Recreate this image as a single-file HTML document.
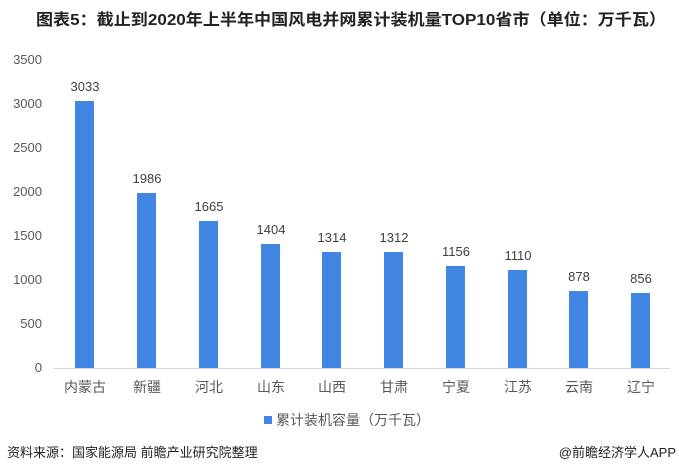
<!DOCTYPE html>
<html><head><meta charset="utf-8"><style>
body{margin:0;background:#fff;}
svg{display:block;font-family:"Liberation Sans","Noto Sans CJK SC",sans-serif;}
</style></head><body>
<svg width="679" height="473" viewBox="0 0 679 473">
<text x="351" y="25" text-anchor="middle" font-size="16" font-weight="bold" fill="#222" textLength="630" lengthAdjust="spacingAndGlyphs">图表5：截止到2020年上半年中国风电并网累计装机量TOP10省市（单位：万千瓦）</text>
<g font-size="13" fill="#595959" text-anchor="end">
<text x="42" y="64">3500</text><text x="42" y="108">3000</text><text x="42" y="152">2500</text>
<text x="42" y="196">2000</text><text x="42" y="240">1500</text><text x="42" y="284">1000</text>
<text x="42" y="328">500</text><text x="42" y="372">0</text>
</g>
<line x1="53" y1="368.5" x2="670" y2="368.5" stroke="#d9d9d9"/>
<g fill="#4186e2">
<rect x="75" y="101" width="19" height="267"/>
<rect x="137" y="193" width="19" height="175"/>
<rect x="199" y="221" width="19" height="147"/>
<rect x="261" y="244" width="19" height="124"/>
<rect x="322" y="252" width="19" height="116"/>
<rect x="384" y="252" width="19" height="116"/>
<rect x="446" y="266" width="19" height="102"/>
<rect x="508" y="270" width="19" height="98"/>
<rect x="569" y="291" width="19" height="77"/>
<rect x="631" y="293" width="19" height="75"/>
</g>
<g font-size="13" fill="#404040" text-anchor="middle">
<text x="85" y="91">3033</text><text x="147" y="183">1986</text><text x="209" y="211">1665</text>
<text x="271" y="234">1404</text><text x="332" y="242">1314</text><text x="394" y="242">1312</text>
<text x="456" y="256">1156</text><text x="518" y="260">1110</text><text x="579" y="281">878</text>
<text x="641" y="283">856</text>
</g>
<g font-size="14" fill="#595959" text-anchor="middle">
<text x="85" y="392">内蒙古</text><text x="147" y="392">新疆</text><text x="209" y="392">河北</text>
<text x="271" y="392">山东</text><text x="332" y="392">山西</text><text x="394" y="392">甘肃</text>
<text x="456" y="392">宁夏</text><text x="518" y="392">江苏</text><text x="579" y="392">云南</text>
<text x="641" y="392">辽宁</text>
</g>
<rect x="264" y="416" width="8" height="8" fill="#4186e2"/>
<text x="276" y="425" font-size="14" fill="#595959">累计装机容量（万千瓦）</text>
<text x="7" y="457" font-size="13" fill="#222">资料来源：国家能源局 前瞻产业研究院整理</text>
<text x="676" y="457" font-size="13" fill="#222" text-anchor="end">@前瞻经济学人APP</text>
</svg>
</body></html>
